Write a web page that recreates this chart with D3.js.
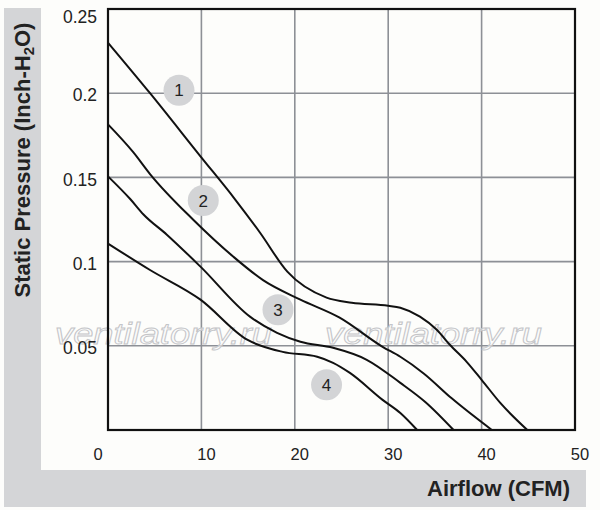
<!DOCTYPE html>
<html>
<head>
<meta charset="utf-8">
<script src="https://cdn.jsdelivr.net/npm/d3@7"></script>
<style>
  body { margin: 0; background: #fdfdfb; }
  svg { display: block; font-family: "Liberation Sans", Arial, sans-serif; }
</style>
</head>
<body>
<div id="chart"></div>
<script>
var width = 600;
var height = 510;
var margin = { top: 9, right: 25, bottom: 80, left: 108 };

// tick values
var xTicks = [0, 10, 20, 30, 40, 50];
var yTicks = [0.05, 0.1, 0.15, 0.2, 0.25];
var yTickLabels = ["0.05", "0.1", "0.15", "0.2", "0.25"];

// curve 1 (airflow CFM, static pressure inch H2O)
var flow1 = [0, 4.5, 9.9, 13.6, 16.3, 19.2, 23.4, 26.1, 30.0, 31.3, 33.4, 35.2, 36.6, 38.4, 40.0, 42.0, 44.9];
var press1 = [0.230, 0.200, 0.1625, 0.137, 0.117, 0.094, 0.0786, 0.0756, 0.0738, 0.0726, 0.0673, 0.0595, 0.0506, 0.0405, 0.0298, 0.0161, 0];

// curve 2
var flow2 = [0, 2.7, 4.5, 9.1, 13.4, 16.6, 20.6, 24.8, 29.4, 31.3, 33.8, 36.8, 41.1];
var press2 = [0.1815, 0.165, 0.152, 0.125, 0.103, 0.089, 0.0774, 0.0667, 0.0494, 0.0435, 0.0336, 0.0188, 0];

// curve 3
var flow3 = [0, 2.4, 3.8, 6.3, 9.9, 15.2, 18.1, 20.6, 24.1, 27.7, 31.3, 34.0, 37.0];
var press3 = [0.1506, 0.137, 0.128, 0.116, 0.097, 0.0673, 0.0577, 0.0524, 0.0488, 0.0417, 0.028, 0.0165, 0];

// curve 4
var flow4 = [0, 4.5, 9.9, 14.9, 18.7, 22.4, 24.1, 25.9, 29.4, 31.3, 33.1];
var press4 = [0.1107, 0.095, 0.0774, 0.0536, 0.0464, 0.0435, 0.0399, 0.0339, 0.0179, 0.0101, 0];

// curve labels: number, airflow, pressure
var labelNums = ["1", "2", "3", "4"];
var labelFlow = [7.6, 10.2, 18.2, 23.4];
var labelPress = [0.2018, 0.1363, 0.0714, 0.0268];

var curves = [
    { flow: flow1, press: press1 },
    { flow: flow2, press: press2 },
    { flow: flow3, press: press3 },
    { flow: flow4, press: press4 }
];

var svg = d3.select("#chart")
    .append("svg")
    .attr("width", width)
    .attr("height", height);

var x0 = margin.left, x1 = width - margin.right;
var y0 = height - margin.bottom, y1 = margin.top;

var x = d3.scaleLinear().domain([0, 50]).range([x0, x1]);
var y = d3.scaleLinear().domain([0, 0.25]).range([y0, y1]);

// gray title bands
svg.append("rect")
    .attr("x", 4).attr("y", 8)
    .attr("width", 37).attr("height", 499)
    .attr("fill", "#d4d5d7");
svg.append("rect")
    .attr("x", 4).attr("y", 470)
    .attr("width", 582).attr("height", 37)
    .attr("fill", "#d4d5d7");

// plot background
svg.append("rect")
    .attr("x", x0).attr("y", y1)
    .attr("width", x1 - x0).attr("height", y0 - y1)
    .attr("fill", "#fdfdfb");

// grid
svg.append("g")
    .selectAll("line")
    .data(xTicks.slice(1, -1))
    .enter()
    .append("line")
    .attr("x1", function (d) { return x(d); })
    .attr("x2", function (d) { return x(d); })
    .attr("y1", y0).attr("y2", y1)
    .attr("stroke", "#8d9096")
    .attr("stroke-width", 1.6);

svg.append("g")
    .selectAll("line")
    .data(yTicks.slice(0, -1))
    .enter()
    .append("line")
    .attr("y1", function (d) { return y(d); })
    .attr("y2", function (d) { return y(d); })
    .attr("x1", x0).attr("x2", x1)
    .attr("stroke", "#8d9096")
    .attr("stroke-width", 1.6);

// watermark
var marks = [55, 325];
svg.append("g")
    .selectAll("text")
    .data(marks)
    .enter()
    .append("text")
    .attr("x", function (d) { return d; })
    .attr("y", 344)
    .attr("font-size", 30)
    .attr("font-style", "italic")
    .attr("textLength", 217)
    .attr("lengthAdjust", "spacingAndGlyphs")
    .attr("fill", "#fbfbfb")
    .attr("fill-opacity", 0.6)
    .attr("stroke", "#c4c5c8")
    .attr("stroke-width", 0.9)
    .text("ventilatorry.ru");

// curves
var line = d3.line()
    .x(function (d) { return x(d[0]); })
    .y(function (d) { return y(d[1]); })
    .curve(d3.curveMonotoneX);

curves.forEach(function (c) {
    var pts = c.flow.map(function (f, i) { return [f, c.press[i]]; });
    svg.append("path")
        .attr("d", line(pts))
        .attr("fill", "none")
        .attr("stroke", "#111")
        .attr("stroke-width", 2);
});

// frame
svg.append("rect")
    .attr("x", x0).attr("y", y1)
    .attr("width", x1 - x0).attr("height", y0 - y1)
    .attr("fill", "none")
    .attr("stroke", "#111")
    .attr("stroke-width", 2.2);

// labels in circles
var lab = svg.append("g")
    .selectAll("g")
    .data(labelNums)
    .enter()
    .append("g")
    .attr("transform", function (d, i) {
        return "translate(" + x(labelFlow[i]) + "," + y(labelPress[i]) + ")";
    });
lab.append("circle")
    .attr("r", 15.5)
    .attr("fill", "#d3d4d6");
lab.append("text")
    .attr("text-anchor", "middle")
    .attr("dy", "0.36em")
    .attr("font-size", 17)
    .attr("fill", "#222")
    .text(function (d) { return d; });

// tick labels
svg.append("g")
    .selectAll("text")
    .data(xTicks)
    .enter()
    .append("text")
    .attr("x", function (d) { return d === 0 ? x(d) - 10 : x(d) + 5; })
    .attr("y", 460)
    .attr("text-anchor", "middle")
    .attr("font-size", 16.5)
    .attr("fill", "#222")
    .text(function (d) { return d; });

svg.append("g")
    .selectAll("text")
    .data(yTicks)
    .enter()
    .append("text")
    .attr("x", 97)
    .attr("y", function (d) { return Math.max(y(d) + 2, 17); })
    .attr("dy", "0.35em")
    .attr("text-anchor", "end")
    .attr("font-size", 17.5)
    .attr("fill", "#222")
    .text(function (d, i) { return yTickLabels[i]; });

// axis titles
var yTitle = svg.append("text")
    .attr("transform", "translate(30,160) rotate(-90)")
    .attr("text-anchor", "middle")
    .attr("font-size", 22)
    .attr("font-weight", "bold")
    .attr("fill", "#222");
yTitle.append("tspan").text("Static Pressure (Inch-H");
yTitle.append("tspan").attr("font-size", 15).attr("dy", 4).text("2");
yTitle.append("tspan").attr("dy", -4).text("O)");

svg.append("text")
    .attr("x", 570)
    .attr("y", 496)
    .attr("text-anchor", "end")
    .attr("font-size", 22)
    .attr("font-weight", "bold")
    .attr("fill", "#222")
    .text("Airflow (CFM)");
</script>
</body>
</html>
